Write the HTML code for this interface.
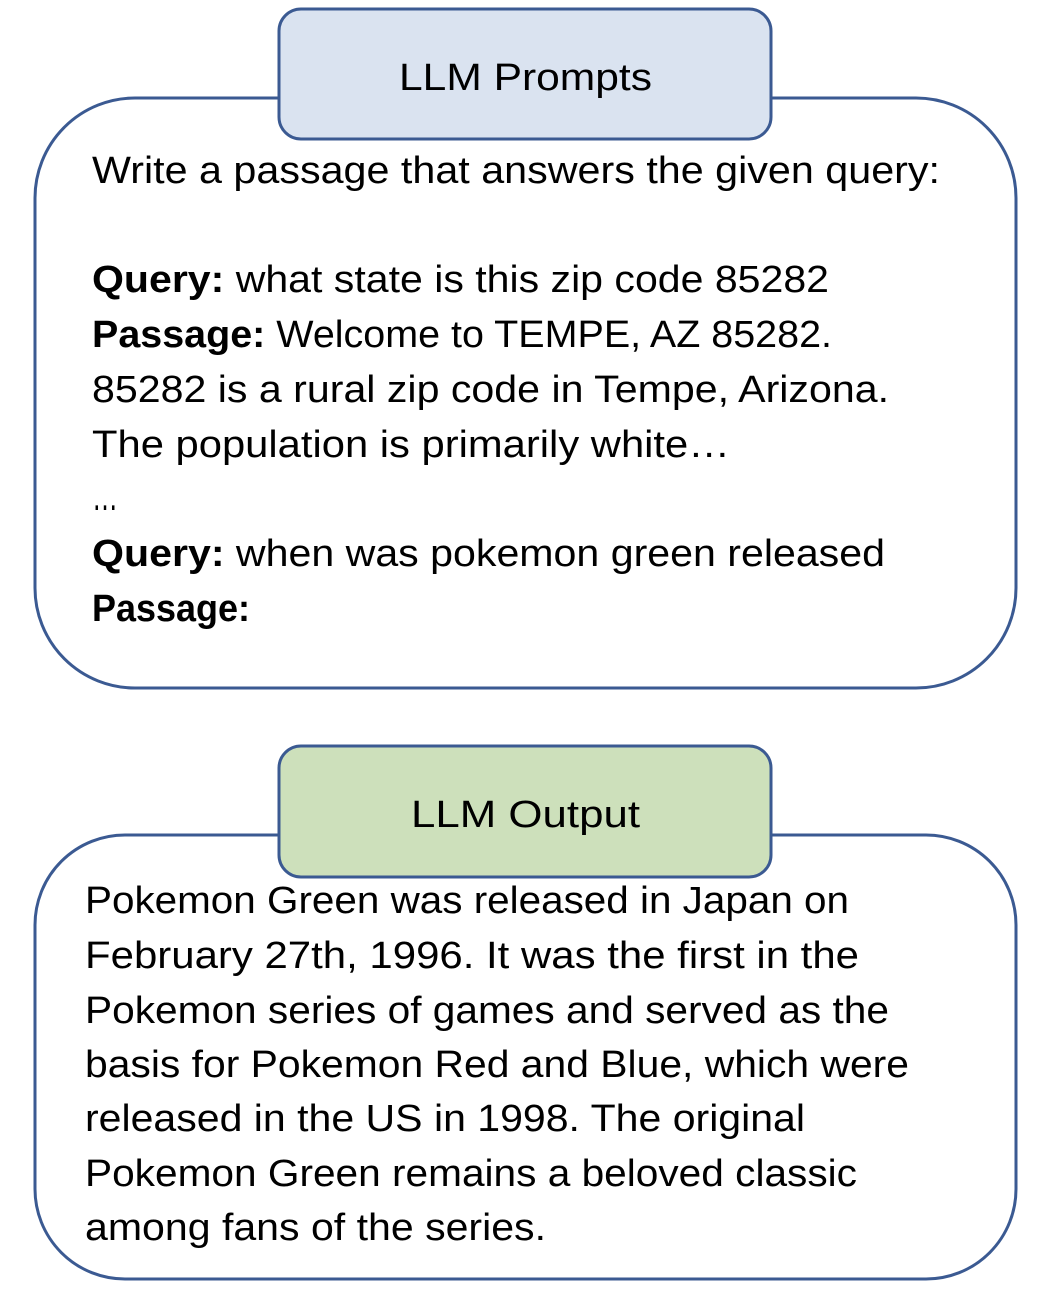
<!DOCTYPE html>
<html><head><meta charset="utf-8"><style>html,body{margin:0;padding:0;background:#fff}svg{display:block}</style></head>
<body>
<svg width="1052" height="1290" viewBox="0 0 1052 1290" xmlns="http://www.w3.org/2000/svg" font-family="Liberation Sans, sans-serif" font-size="38" fill="#000">
<rect x="35" y="98" width="981" height="590" rx="100" ry="100" fill="#fff" stroke="#3b5a92" stroke-width="3"/>
<rect x="279" y="9" width="492" height="130" rx="22" ry="22" fill="#dae3f0" stroke="#3b5a92" stroke-width="3"/>
<text x="399" y="90" textLength="253" lengthAdjust="spacingAndGlyphs">LLM Prompts</text>
<text x="92" y="183" textLength="848" lengthAdjust="spacingAndGlyphs">Write a passage that answers the given query:</text>
<text x="92" y="292" textLength="737" lengthAdjust="spacingAndGlyphs"><tspan font-weight="bold">Query:</tspan> what state is this zip code 85282</text>
<text x="92" y="347" textLength="740" lengthAdjust="spacingAndGlyphs"><tspan font-weight="bold">Passage:</tspan> Welcome to TEMPE, AZ 85282.</text>
<text x="92" y="402" textLength="797" lengthAdjust="spacingAndGlyphs">85282 is a rural zip code in Tempe, Arizona.</text>
<text x="92" y="457" textLength="638" lengthAdjust="spacingAndGlyphs">The population is primarily white…</text>
<text x="92" y="510" textLength="26" lengthAdjust="spacingAndGlyphs" font-size="44">…</text>
<text x="92" y="566" textLength="793" lengthAdjust="spacingAndGlyphs"><tspan font-weight="bold">Query:</tspan> when was pokemon green released</text>
<text x="92" y="621" textLength="158" lengthAdjust="spacingAndGlyphs" font-weight="bold">Passage:</text>

<rect x="35" y="835" width="981" height="444" rx="90" ry="90" fill="#fff" stroke="#3b5a92" stroke-width="3"/>
<rect x="279" y="746" width="492" height="131" rx="22" ry="22" fill="#cde0bb" stroke="#3b5a92" stroke-width="3"/>
<text x="411" y="827" textLength="229" lengthAdjust="spacingAndGlyphs">LLM Output</text>
<text x="85" y="913" textLength="764" lengthAdjust="spacingAndGlyphs">Pokemon Green was released in Japan on</text>
<text x="85" y="968" textLength="774" lengthAdjust="spacingAndGlyphs">February 27th, 1996. It was the first in the</text>
<text x="85" y="1023" textLength="804" lengthAdjust="spacingAndGlyphs">Pokemon series of games and served as the</text>
<text x="85" y="1077" textLength="824" lengthAdjust="spacingAndGlyphs">basis for Pokemon Red and Blue, which were</text>
<text x="85" y="1131" textLength="720" lengthAdjust="spacingAndGlyphs">released in the US in 1998. The original</text>
<text x="85" y="1186" textLength="772" lengthAdjust="spacingAndGlyphs">Pokemon Green remains a beloved classic</text>
<text x="85" y="1240" textLength="461" lengthAdjust="spacingAndGlyphs">among fans of the series.</text>
</svg>
</body></html>
